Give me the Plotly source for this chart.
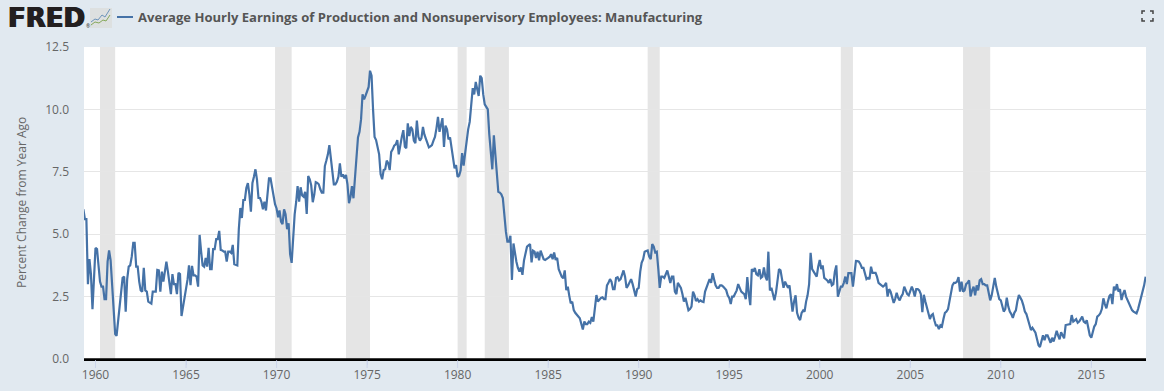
import plotly.graph_objects as go
import pandas as pd

SERIES_NAME = "Average Hourly Earnings of Production and Nonsupervisory Employees: Manufacturing"
Y_TITLE = "Percent Change from Year Ago"
START_MONTH = "1959-05-01"

v1950s = [6.0, 5.6, 5.6, 3.0, 4.0, 3.4, 2.0, 3.2]
v1960s = [
 4.45, 4.4, 3.6, 3.1, 2.9, 2.9, 2.4, 2.4, 3.9, 4.35, 3.95, 2.9,
 1.7, 1.0, 0.93, 1.5, 2.3, 2.8, 3.25, 3.3, 1.9, 3.2, 3.7, 3.75,
 4.1, 4.65, 4.65, 3.7, 3.7, 3.1, 2.75, 2.7, 3.65, 2.75, 2.7, 2.3,
 2.25, 2.22, 2.7, 2.7, 2.7, 3.57, 3.55, 2.7, 3.5, 3.1, 3.5, 3.9,
 3.5, 3.1, 2.6, 3.4, 3.0, 3.0, 2.6, 3.45, 3.4, 1.72, 2.1, 2.5,
 2.9, 3.2, 3.75, 2.96, 3.73, 3.35, 3.35, 3.3, 2.9, 4.97, 4.3, 3.75,
 3.7, 4.05, 3.7, 4.45, 3.6, 3.6, 4.4, 4.4, 4.8, 4.8, 5.13, 4.37,
 4.35, 4.3, 4.3, 3.9, 4.3, 4.3, 4.25, 4.57, 3.8, 3.78, 3.75, 5.2,
 6.05, 5.65, 6.37, 6.37, 6.85, 7.05, 6.6, 5.9, 7.05, 7.3, 7.6, 7.2,
 6.45, 6.45, 6.3, 6.0, 6.3, 5.95, 6.5, 7.24, 7.24, 6.9, 6.57, 6.2,
]
v1970s = [
 6.03, 5.68, 5.95, 5.5, 5.4, 6.0, 5.8, 5.2, 5.44, 4.2, 3.85, 5.0,
 5.8, 6.3, 6.93, 6.3, 6.88, 6.55, 6.5, 6.7, 5.81, 7.33, 7.2, 6.95,
 6.28, 6.6, 7.08, 7.05, 7.0, 6.8, 6.66, 6.66, 7.73, 7.95, 8.2, 8.57,
 8.0, 7.5, 7.0, 7.0, 7.1, 7.3, 7.84, 7.3, 7.4, 7.24, 7.37, 7.0,
 6.24, 6.5, 6.93, 6.44, 7.4, 8.4, 8.88, 9.1, 9.6, 10.6, 10.4, 10.55,
 10.7, 10.9, 11.55, 11.35, 10.0, 8.9, 8.77, 8.5, 8.2, 7.4, 7.2, 7.57,
 7.6, 7.95, 7.85, 7.57, 8.3, 8.4, 8.55, 8.6, 8.77, 8.2, 8.65, 8.9,
 9.17, 8.5, 8.45, 9.44, 8.93, 9.3, 9.2, 8.75, 8.65, 9.55, 8.9, 8.75,
 8.85, 9.3, 9.0, 8.85, 8.65, 8.48, 8.52, 8.57, 8.75, 8.9, 9.25, 9.7,
 9.1, 9.45, 9.65, 8.5, 9.35, 9.2, 8.8, 8.88, 8.5, 8.15, 7.64, 7.77,
]
v1980s = [
 7.3, 7.35, 7.55, 8.25, 7.75, 8.25, 8.75, 9.2, 9.5, 10.2, 10.85, 10.6,
 11.1, 10.8, 10.54, 11.35, 11.25, 10.6, 10.2, 10.1, 10.0, 9.0, 8.2, 7.6,
 8.96, 8.1, 7.5, 6.7, 6.67, 6.6, 6.45, 5.7, 5.1, 4.7, 4.7, 4.94,
 3.17, 4.63, 4.2, 3.9, 3.65, 3.5, 3.67, 3.37, 3.95, 4.3, 4.5, 4.55,
 4.6, 3.87, 4.34, 4.3, 4.05, 4.3, 3.95, 4.34, 4.15, 4.0, 3.97, 4.0,
 4.05, 4.1, 4.2, 4.0, 4.27, 3.97, 4.05, 3.6, 3.45, 3.3, 3.23, 3.55,
 2.76, 2.9, 2.55, 2.23, 2.3, 1.96, 1.85, 1.75, 1.7, 1.63, 1.4, 1.18,
 1.5, 1.4, 1.4, 1.5, 1.45, 1.68, 1.5, 2.1, 2.56, 2.3, 2.4, 2.45,
 2.47, 2.4, 2.4, 2.95, 3.05, 3.2, 3.1, 2.8, 2.8, 3.25, 3.28, 3.15,
 3.2, 3.35, 3.55, 3.3, 2.85, 2.95, 3.1, 3.2, 3.0, 2.7, 2.5, 2.8,
]
v1990s = [
 2.85, 3.5, 3.85, 4.0, 4.3, 4.33, 4.35, 4.1, 4.0, 4.6, 4.5, 4.27,
 4.3, 3.6, 2.85, 3.3, 3.3, 3.25, 3.4, 3.55, 3.3, 3.05, 3.3, 3.3,
 2.7, 2.6, 3.05, 2.95, 2.85, 2.6, 2.3, 2.45, 2.2, 1.95, 2.0, 2.1,
 2.7, 2.55, 2.32, 2.4, 2.3, 2.35, 2.3, 2.28, 2.7, 2.85, 3.0, 3.2,
 3.05, 3.44, 3.2, 2.95, 2.85, 2.85, 2.95, 2.95, 2.9, 2.85, 2.76, 2.55,
 2.45, 2.2, 2.5, 2.5, 2.6, 2.75, 3.0, 2.85, 2.7, 2.65, 2.6, 2.4,
 3.28, 2.6, 2.16, 3.6, 3.5, 3.65, 3.4, 3.35, 3.6, 3.25, 3.3, 3.67,
 3.3, 3.15, 4.3, 2.75, 2.85, 2.6, 2.35, 2.65, 3.1, 3.6, 3.55, 3.2,
 2.85, 3.1, 3.0, 2.85, 2.95, 2.4, 1.9, 2.3, 2.55, 1.85, 1.65, 1.56,
 1.85, 1.95, 1.9, 2.3, 2.55, 3.0, 4.25, 3.6, 3.5, 3.45, 3.3, 3.7,
]
v2000s = [
 3.97, 3.6, 3.75, 3.25, 3.2, 3.15, 3.05, 3.2, 2.95, 3.0, 3.5, 3.75,
 2.5, 2.7, 2.9, 2.9, 3.05, 3.3, 3.0, 3.44, 3.44, 3.44, 2.9, 3.4,
 3.93, 3.92, 3.9, 3.8, 3.65, 3.65, 3.4, 3.2, 3.25, 3.2, 3.7, 3.45,
 3.45, 3.45, 3.3, 3.05, 3.0, 2.95, 2.9, 2.95, 3.05, 2.5, 2.8, 2.7,
 2.5, 2.25, 2.4, 2.65, 2.45, 2.35, 2.5, 2.6, 2.9, 2.75, 2.6, 2.55,
 2.7, 2.9, 2.75, 2.5, 2.8, 2.8, 2.75, 2.6, 1.88, 2.57, 2.3, 2.05,
 1.76, 1.6, 1.75, 1.8, 1.55, 1.35, 1.35, 1.2, 1.35, 1.3, 1.6, 1.85,
 1.9, 2.0, 2.3, 2.6, 2.95, 3.05, 3.05, 3.1, 3.28, 2.7, 3.1, 2.7,
 2.75, 3.0, 3.05, 3.15, 2.5, 2.75, 2.9, 2.55, 2.95, 2.75, 3.15, 3.2,
 3.0, 3.0, 2.95, 2.95, 2.7, 2.35, 2.55, 2.85, 3.25, 2.9, 2.6, 2.4,
]
v2010s = [
 2.35, 2.15, 1.9, 2.0, 2.46, 2.1, 1.9, 1.8, 1.65, 1.85, 1.95, 2.3,
 2.56, 2.45, 2.35, 2.15, 1.9, 1.8, 1.6, 1.35, 1.16, 1.25, 1.15, 1.05,
 0.8, 0.55, 0.48, 0.75, 0.95, 0.75, 0.95, 0.95, 0.8, 0.65, 0.85, 0.7,
 0.9, 1.13, 0.95, 0.79, 1.07, 0.95, 0.83, 1.36, 1.38, 1.38, 1.4, 1.76,
 1.5, 1.55, 1.6, 1.45, 1.5, 1.6, 1.7, 1.5, 1.45, 1.55, 1.3, 0.95,
 0.85, 1.1, 1.3, 1.4, 1.7, 1.75, 1.83, 2.0, 2.43, 2.2, 2.03, 2.3,
 2.52, 2.6, 2.2, 2.9, 2.75, 3.0, 2.7, 2.8, 2.36, 2.6, 2.76, 2.5,
 2.35, 2.23, 2.1, 1.96, 1.9, 1.85, 1.83, 2.0, 2.25, 2.4, 2.7, 2.95,
 3.3,
]
values = v1950s + v1960s + v1970s + v1980s + v1990s + v2000s + v2010s
months = pd.date_range(START_MONTH, periods=len(values), freq="MS")

recession_starts = ["1960-04-01", "1969-12-01", "1973-11-01", "1980-01-01", "1981-07-01", "1990-07-01", "2001-03-01", "2007-12-01"]
recession_ends = ["1961-02-01", "1970-11-01", "1975-03-01", "1980-07-01", "1982-11-01", "1991-03-01", "2001-11-01", "2009-06-01"]
tick_years = [1960, 1965, 1970, 1975, 1980, 1985, 1990, 1995, 2000, 2005, 2010, 2015]

W, H = 1164, 391
L, R, T, B = 84, 1146, 47, 359
BG = "#e1e9f0"
LINE = "#4572a7"
TXT = "#666666"

def px(x):
    return (x - L) / (R - L)

def py(y):
    return (B - y) / (B - T)

def ppath(points):
    return "M" + " L".join(f"{px(a):.5f},{py(b):.5f}" for a, b in points)

fig = go.Figure(go.Scatter(x=months, y=values, mode="lines", name=SERIES_NAME, cliponaxis=True,
                           line=dict(color=LINE, width=2.2), showlegend=False))

shapes = [dict(type="rect", xref="x", yref="paper", x0=a, x1=b, y0=0, y1=1,
               fillcolor="#e5e5e5", line_width=0, layer="below")
          for a, b in zip(recession_starts, recession_ends)]

def chrome(d):
    d.update(xref="paper", yref="paper")
    return d

# full-length tick marks below the axis line, at the tick years
for yr in tick_years:
    shapes.append(dict(type="line", xref="x", yref="paper", x0=f"{yr}-01-01", x1=f"{yr}-01-01",
                       y0=py(360), y1=py(368), line=dict(color="#ccd6eb", width=1)))

shapes.append(chrome(dict(type="line", x0=0, x1=1, y0=py(359.2), y1=py(359.2), line=dict(color="#000000", width=2))))
shapes.append(chrome(dict(type="line", x0=px(117), x1=px(133), y0=py(17), y1=py(17), line=dict(color=LINE, width=2))))
shapes.append(chrome(dict(type="rect", x0=px(90), x1=px(112), y0=py(28), y1=py(8), fillcolor="#dde0e0", line_width=0)))
shapes.append(chrome(dict(type="path", path=ppath([(91, 22), (95, 19), (98, 20), (102, 15), (105, 17), (110, 9)]),
                          line=dict(color="#6d94ba", width=1))))
shapes.append(chrome(dict(type="path", path=ppath([(91, 25), (95, 22), (99, 23), (103, 20), (106, 21), (110, 15)]),
                          line=dict(color="#86a85a", width=1))))
for cx, cy, dx, dy in [(1142, 11, 1, 1), (1153, 11, -1, 1), (1142, 21, 1, -1), (1153, 21, -1, -1)]:
    shapes.append(chrome(dict(type="path", path=ppath([(cx, cy + 3 * dy), (cx, cy), (cx + 3 * dx, cy)]),
                              line=dict(color="#444444", width=1.5))))

annotations = [
    dict(text="<b>FRED</b>", x=px(5.5), y=py(18), xref="paper", yref="paper", xanchor="left", yanchor="middle",
         showarrow=False, font=dict(family="DejaVu Sans", size=26, color="#231f20",
                                    shadow="0.7px 0 0 #231f20, -0.7px 0 0 #231f20")),
    dict(text="®", x=px(84), y=py(26), xref="paper", yref="paper", xanchor="left", yanchor="middle",
         showarrow=False, font=dict(family="Open Sans", size=5, color="#231f20")),
    dict(text=f"<b>{SERIES_NAME}</b>", x=px(136), y=py(17), xref="paper", yref="paper", xanchor="left", yanchor="middle",
         showarrow=False, font=dict(family="Open Sans", size=13.05, color="#555555")),
    dict(text=Y_TITLE, x=px(21), y=py(203), xref="paper", yref="paper", xanchor="center", yanchor="middle",
         textangle=-90, showarrow=False, font=dict(family="Open Sans", size=12, color=TXT)),
]

fig.update_layout(
    width=W, height=H,
    margin=dict(l=L, r=W - R, t=T, b=H - B, pad=0),
    paper_bgcolor=BG, plot_bgcolor="#ffffff",
    font=dict(family="Open Sans", size=12, color=TXT),
    shapes=shapes, annotations=annotations, showlegend=False,
    xaxis=dict(type="date", automargin=False, range=["1959-05-14", "2018-01-08"], tick0="1960-01-01", dtick="M60", tickformat="%Y",
               showgrid=False, zeroline=False, showline=True, linecolor="#000000", linewidth=2,
               ticks="outside", ticklen=4, tickwidth=1, tickcolor="#ccd6eb",
               tickfont=dict(family="Open Sans", size=12, color=TXT)),
    yaxis=dict(automargin=False, range=[0, 12.5], tick0=0, dtick=2.5, tickformat=".1f", showgrid=True, gridcolor="#e6e6e6", gridwidth=1,
               zeroline=False, showline=False, ticks="", ticklabelstandoff=14,
               tickfont=dict(family="Open Sans", size=12, color=TXT)),
)

fig.write_html("out.html", config=dict(displayModeBar=False),
               post_script="document.body.style.margin='0';document.body.style.background='#e1e9f0';")
